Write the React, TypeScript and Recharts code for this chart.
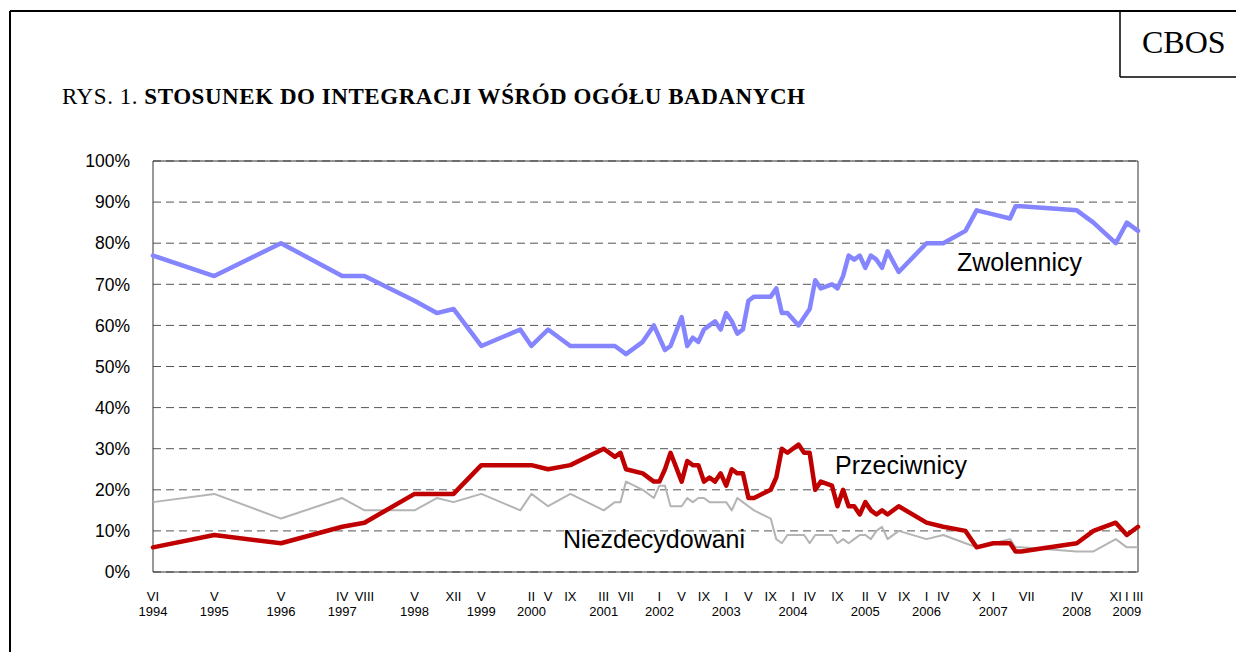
import React from "react";
import {
  LineChart,
  Line,
  XAxis,
  YAxis,
  CartesianGrid,
  ReferenceArea,
} from "recharts";

// survey dates as months counted from VI 1994 (0 = June 1994)
const surveyMonths = [
  0, 11, 23, 34, 38, 47, 51, 54, 59, 66, 68, 71, 75, 81, 83, 84, 85, 88, 90, 91,
  92, 93, 95, 96, 97, 98, 99, 100, 101, 102, 103, 104, 105, 106, 107, 108, 111,
  112, 113, 114, 116, 117, 118, 119, 120, 122, 123, 124, 125, 126, 127, 128, 129,
  130, 131, 132, 134, 139, 142, 146, 148, 151, 154, 155, 156, 166, 169, 173, 175,
  177,
];

const zwolennicy = [
  77, 72, 80, 72, 72, 66, 63, 64, 55, 59, 55, 59, 55, 55, 55, 54, 53, 56, 60, 57,
  54, 55, 62, 55, 57, 56, 59, 60, 61, 59, 63, 61, 58, 59, 66, 67, 67,
  69, 63, 63, 60, 62, 64, 71, 69, 70, 69, 72, 77, 76, 77, 74, 77,
  76, 74, 78, 73, 80, 80, 83, 88, 87, 86, 89, 89, 88, 85, 80, 85,
  83,
];

const przeciwnicy = [
  6, 9, 7, 11, 12, 19, 19, 19, 26, 26, 26, 25, 26, 30, 28, 29, 25, 24, 22, 22,
  25, 29, 22, 27, 26, 26, 22, 23, 22, 24, 21, 25, 24, 24, 18, 18, 20,
  23, 30, 29, 31, 29, 29, 20, 22, 21, 16, 20, 16, 16, 14, 17, 15,
  14, 15, 14, 16, 12, 11, 10, 6, 7, 7, 5, 5, 7, 10, 12, 9,
  11,
];

const niezdecydowani = [
  17, 19, 13, 18, 15, 15, 18, 17, 19, 15, 19, 16, 19, 15, 17, 17, 22, 20, 18, 21,
  21, 16, 16, 18, 17, 18, 18, 17, 17, 17, 17, 15, 18, 17, 16, 15, 13,
  8, 7, 9, 9, 9, 7, 9, 9, 9, 7, 8, 7, 8, 9, 9, 8,
  10, 11, 8, 10, 8, 9, 7, 6, 7, 8, 6, 6, 5, 5, 8, 6,
  6,
];

const tickMonths = [
  0, 11, 23, 34, 38, 47, 54, 59, 68, 71, 75, 81, 85, 91, 95, 99, 103, 107, 111,
  115, 118, 123, 128, 131, 135, 139, 142, 148, 151, 157, 166, 173, 175, 177,
];
const tickMonthLabels = [
  "VI", "V", "V", "IV", "VIII", "V", "XII", "V", "II", "V", "IX", "III", "VII",
  "I", "V", "IX", "I", "V", "IX", "I", "IV", "IX", "II", "V", "IX", "I", "IV",
  "X", "I", "VII", "IV", "XI", "I", "III",
];
const tickYearLabels = [
  "1994", "1995", "1996", "1997", "", "1998", "", "1999", "2000", "", "",
  "2001", "", "2002", "", "", "2003", "", "", "2004", "", "", "2005", "", "",
  "2006", "", "", "2007", "", "2008", "", "2009", "",
];

const yTicks = [0, 10, 20, 30, 40, 50, 60, 70, 80, 90, 100];

const data = surveyMonths.map((m, i) => ({
  m,
  zw: zwolennicy[i],
  pr: przeciwnicy[i],
  nz: niezdecydowani[i],
}));

const SANS = "'Liberation Sans', Arial, sans-serif";
const SERIF = "'Liberation Serif', 'Times New Roman', serif";

const MonthTick = (props: any) => {
  const { x, y, payload } = props;
  const i = tickMonths.indexOf(payload.value);
  return (
    <g>
      <text x={x} y={y + 29} textAnchor="middle" fontSize={13} fontFamily={SANS} fill="#000">
        {tickMonthLabels[i]}
      </text>
      {tickYearLabels[i] && (
        <text x={x} y={y + 44} textAnchor="middle" fontSize={13} fontFamily={SANS} fill="#000">
          {tickYearLabels[i]}
        </text>
      )}
    </g>
  );
};

const App = () => {
  return (
    <div
      style={{
        position: "absolute",
        left: 0,
        top: 0,
        width: 1236,
        height: 652,
        background: "#fff",
        overflow: "hidden",
      }}
    >
      <LineChart
        width={1236}
        height={652}
        data={data}
        margin={{ top: 161, right: 98, bottom: 20, left: 0 }}
      >
        <CartesianGrid
          vertical={false}
          stroke="#555"
          strokeDasharray="8 5"
        />
        <XAxis
          dataKey="m"
          type="number"
          domain={[0, 177]}
          ticks={tickMonths}
          interval={0}
          axisLine={false}
          tickLine={false}
          tickSize={0}
          tickMargin={0}
          height={60}
          tick={<MonthTick />}
        />
        <YAxis
          type="number"
          domain={[0, 100]}
          ticks={yTicks}
          width={153}
          axisLine={false}
          tickLine={false}
          tickSize={6}
          tickMargin={17}
          tickFormatter={(v: number) => `${v}%`}
          tick={{ fontSize: 17.5, fontFamily: SANS, fill: "#000" }}
        />
        <Line
          dataKey="nz"
          stroke="#b4b4b4"
          strokeWidth={2}
          dot={false}
          isAnimationActive={false}
          strokeLinejoin="round"
        />
        <Line
          dataKey="pr"
          stroke="#c00000"
          strokeWidth={4.5}
          dot={false}
          isAnimationActive={false}
          strokeLinejoin="round"
          strokeLinecap="round"
        />
        <Line
          dataKey="zw"
          stroke="#8585ff"
          strokeWidth={4.5}
          dot={false}
          isAnimationActive={false}
          strokeLinejoin="round"
          strokeLinecap="round"
        />
        <ReferenceArea
          x1={0}
          x2={177}
          y1={0}
          y2={100}
          fill="none"
          fillOpacity={0}
          stroke="#333"
          strokeWidth={1}
          ifOverflow="visible"
        />
      </LineChart>

      <svg
        width={1236}
        height={652}
        style={{ position: "absolute", left: 0, top: 0, pointerEvents: "none" }}
      >
        <line x1={10} y1={11} x2={1236} y2={11} stroke="#000" strokeWidth={2} />
        <line x1={10} y1={11} x2={10} y2={652} stroke="#000" strokeWidth={2} />
        <line x1={1120} y1={11} x2={1120} y2={77} stroke="#000" strokeWidth={1.5} />
        <line x1={1120} y1={77} x2={1236} y2={77} stroke="#000" strokeWidth={1.5} />
        <text x={1142} y={53} fontSize={32} fontFamily={SERIF} fill="#000">
          CBOS
        </text>
        <text
          x={62}
          y={104}
          fontSize={23}
          fontFamily={SERIF}
          fill="#000"
          textLength={743}
          lengthAdjust="spacing"
        >
          <tspan>RYS. 1. </tspan>
          <tspan fontWeight="bold">STOSUNEK DO INTEGRACJI WŚRÓD OGÓŁU BADANYCH</tspan>
        </text>
        <text x={957} y={271} fontSize={25} fontFamily={SANS} fill="#000">
          Zwolennicy
        </text>
        <text x={835} y={474} fontSize={25} fontFamily={SANS} fill="#000">
          Przeciwnicy
        </text>
        <text x={563} y={548} fontSize={25} fontFamily={SANS} fill="#000">
          Niezdecydowani
        </text>
      </svg>
    </div>
  );
};

export default App;
